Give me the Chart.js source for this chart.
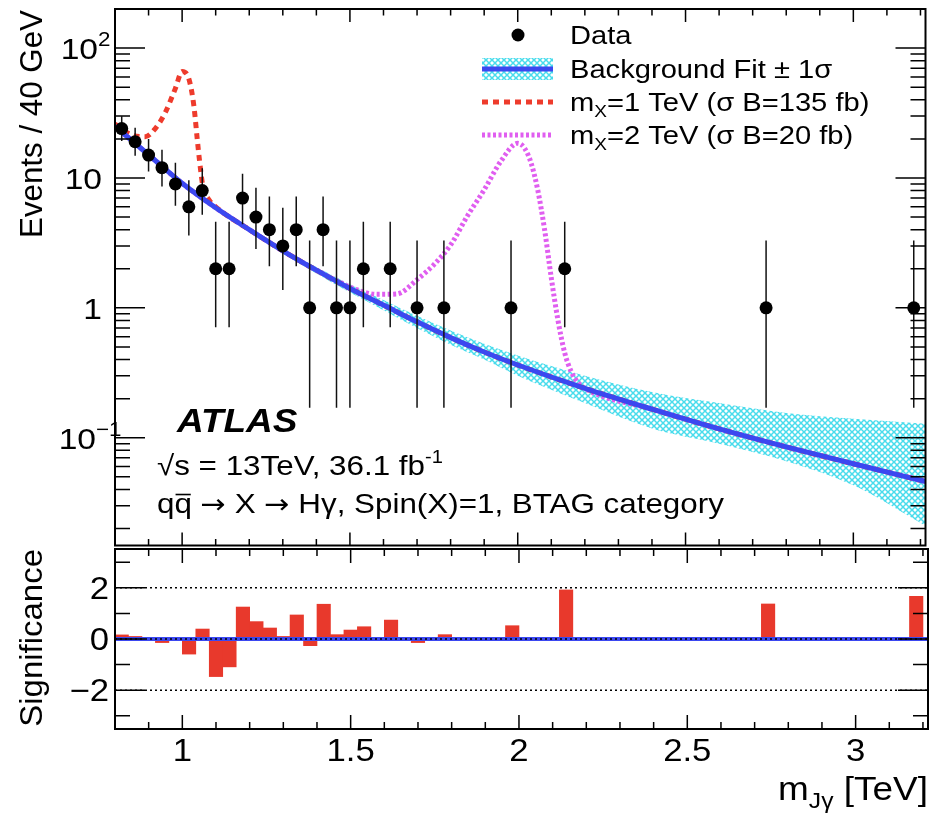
<!DOCTYPE html>
<html>
<head>
<meta charset="utf-8">
<title>m_Jγ spectrum, BTAG category</title>
<script src="https://cdn.jsdelivr.net/npm/chart.js@4.4.1/dist/chart.umd.min.js"></script>
<style>
  body { margin: 0; background: #fff; }
  #wrap { position: relative; width: 932px; height: 816px; overflow: hidden; }
  #wrap canvas { position: absolute; left: 0; }
  #main-chart { top: 0; }
  #sig-chart { top: 540px; }
</style>
</head>
<body>
<div id="wrap">
  <canvas id="main-chart" width="932" height="552"></canvas>
  <canvas id="sig-chart" width="932" height="276"></canvas>
</div>
<script>
// ---- data (TeV, events / 40 GeV) ----
const dataX  = [0.82, 0.86, 0.90, 0.94, 0.98, 1.02, 1.06, 1.10, 1.14, 1.18, 1.22, 1.26, 1.30, 1.34, 1.38, 1.42, 1.46, 1.50, 1.54, 1.62, 1.70, 1.78, 1.98, 2.14, 2.74, 3.18];
const dataY  = [24, 19, 15, 12, 9, 6, 8, 2, 2, 7, 5, 4, 3, 4, 1, 4, 1, 1, 2, 2, 1, 1, 1, 2, 1, 1];
const dataLo = [19.3, 14.8, 11.2, 8.6, 6.1, 3.6, 5.2, 0.71, 0.71, 4.4, 2.84, 2.09, 1.37, 2.09, 0.17, 2.09, 0.17, 0.17, 0.71, 0.71, 0.17, 0.17, 0.17, 0.71, 0.17, 0.17];
const dataHi = [29.9, 24.4, 20.0, 16.5, 13.1, 9.6, 11.9, 4.6, 4.6, 10.8, 8.4, 7.2, 5.9, 7.2, 3.3, 7.2, 3.3, 3.3, 4.6, 4.6, 3.3, 3.3, 3.3, 4.6, 3.3, 3.3];

const fitX   = [0.80, 0.90, 1.00, 1.10, 1.20, 1.30, 1.40, 1.50, 1.60, 1.70, 1.80, 1.90, 2.00, 2.20, 2.40, 2.60, 2.80, 3.00, 3.215];
const fitY   = [25, 15.1, 9.1, 5.9, 4.0, 2.75, 1.95, 1.41, 1.05, 0.78, 0.59, 0.457, 0.363, 0.24, 0.166, 0.117, 0.085, 0.063, 0.046];
const bandHi = [26, 15.6, 9.4, 6.1, 4.15, 2.87, 2.06, 1.52, 1.15, 0.87, 0.67, 0.53, 0.43, 0.30, 0.225, 0.185, 0.155, 0.14, 0.128];
const bandLo = [24, 14.6, 8.8, 5.7, 3.85, 2.62, 1.84, 1.31, 0.96, 0.70, 0.52, 0.40, 0.30, 0.185, 0.118, 0.09, 0.066, 0.043, 0.021];

const sig1X = [0.80, 0.85, 0.89, 0.92, 0.95, 0.98, 1.00, 1.02, 1.035, 1.045, 1.052, 1.062, 1.08, 1.10, 1.20, 1.30, 1.40, 1.50, 1.60, 1.70, 1.80, 1.90, 2.00, 2.20, 2.40, 2.60, 2.80, 3.00, 3.215];
const sig1Y = [26, 21.4, 20.8, 24, 32, 49, 66, 58, 36, 20, 13.5, 8.6, 6.8, 6.0, 4.0, 2.75, 1.95, 1.41, 1.05, 0.78, 0.59, 0.457, 0.363, 0.24, 0.166, 0.117, 0.085, 0.063, 0.046];

const sig2X = [0.80, 0.90, 1.00, 1.10, 1.20, 1.30, 1.40, 1.46, 1.52, 1.58, 1.64, 1.70, 1.75, 1.80, 1.85, 1.90, 1.95, 2.00, 2.02, 2.04, 2.06, 2.08, 2.10, 2.12, 2.14, 2.16, 2.18, 2.20, 2.40, 2.60, 2.80, 3.00, 3.215];
const sig2Y = [25, 15.1, 9.1, 5.9, 4.0, 2.75, 1.95, 1.62, 1.38, 1.27, 1.28, 1.65, 2.15, 3.05, 5.1, 8.1, 13.5, 18.5, 17, 13, 8, 4, 1.7, 0.8, 0.45, 0.32, 0.265, 0.24, 0.166, 0.117, 0.085, 0.063, 0.046];

// significance per 40 GeV bin (bin centres)
const binX   = [0.82, 0.86, 0.94, 0.98, 1.02, 1.06, 1.10, 1.14, 1.18, 1.22, 1.26, 1.30, 1.34, 1.38, 1.42, 1.46, 1.50, 1.54, 1.62, 1.70, 1.78, 1.98, 2.14, 2.74, 3.18];
const binSig = [0.16, 0.10, -0.14, -0.06, -0.59, 0.39, -1.47, -1.09, 1.25, 0.68, 0.43, 0.10, 0.94, -0.26, 1.36, 0.17, 0.35, 0.48, 0.74, -0.14, 0.17, 0.52, 1.92, 1.37, 1.67];

const xTickLabels = ["1", "1.5", "2", "2.5", "3"];
const sigTickLabels = ["2", "0", "\u22122"];

const X_MIN = 0.8, X_MAX = 3.215;
const FONT = '"Liberation Sans", Arial, Helvetica, sans-serif';
const SX = 1.12;   // the reference text is a bit wider than plain Arial

const BLUE = "#3b48f0", RED = "#ee3b2c", MAGENTA = "#e05ef0";

function pts(xs, ys) { return xs.map((x, i) => ({ x: x, y: ys[i] })); }

function hatchPattern(ctx) {
  const c = document.createElement("canvas");
  c.width = 6; c.height = 6;
  const g = c.getContext("2d");
  g.strokeStyle = "#48dcec";
  g.lineWidth = 1.5;
  g.beginPath();
  g.moveTo(0, 0); g.lineTo(6, 6);
  g.moveTo(6, 0); g.lineTo(0, 6);
  g.stroke();
  return ctx.createPattern(c, "repeat");
}

// draw a run of text pieces (for sub/superscripts), horizontally stretched by sx
function drawText(ctx, parts, x, y, align, sx) {
  sx = sx || SX;
  let total = 0;
  parts.forEach(p => {
    p.font = (p.style ? p.style + " " : "") + p.size + "px " + (p.family || FONT);
    ctx.font = p.font;
    p.w = ctx.measureText(p.t).width * sx;
    total += p.w;
  });
  let cx = align === "right" ? x - total : (align === "center" ? x - total / 2 : x);
  parts.forEach(p => {
    ctx.save();
    ctx.font = p.font;
    ctx.textAlign = "left";
    ctx.textBaseline = "alphabetic";
    ctx.fillStyle = "#000";
    ctx.translate(cx, y + (p.dy || 0));
    ctx.scale(sx, 1);
    ctx.fillText(p.t, 0, 0);
    if (p.bar) {
      ctx.strokeStyle = "#000";
      ctx.lineWidth = 1.6;
      ctx.beginPath();
      ctx.moveTo(1, -p.size * 0.66);
      ctx.lineTo(p.w / sx - 1, -p.size * 0.66);
      ctx.stroke();
    }
    ctx.restore();
    cx += p.w;
  });
}

function drawFrame(ctx, a) {
  ctx.save();
  ctx.strokeStyle = "#000";
  ctx.lineWidth = 2;
  ctx.strokeRect(a.left, a.top, a.right - a.left, a.bottom - a.top);
  ctx.restore();
}

function drawXTicks(ctx, chart, majorLen, minorLen) {
  const a = chart.chartArea, xs = chart.scales.x;
  ctx.save();
  ctx.strokeStyle = "#000";
  ctx.lineWidth = 1.5;
  ctx.beginPath();
  for (let k = 9; k <= 32; k++) {
    const px = xs.getPixelForValue(k / 10);
    const len = k % 5 === 0 ? majorLen : minorLen;
    ctx.moveTo(px, a.top); ctx.lineTo(px, a.top + len);
    ctx.moveTo(px, a.bottom); ctx.lineTo(px, a.bottom - len);
  }
  ctx.stroke();
  ctx.restore();
}

function drawYTicks(ctx, chart, values, isMajor) {
  const a = chart.chartArea, ys = chart.scales.y;
  ctx.save();
  ctx.strokeStyle = "#000";
  ctx.lineWidth = 1.5;
  ctx.beginPath();
  values.forEach(v => {
    const py = ys.getPixelForValue(v);
    const len = isMajor(v) ? 30 : 15;
    ctx.moveTo(a.left, py); ctx.lineTo(a.left + len, py);
    ctx.moveTo(a.right, py); ctx.lineTo(a.right - len, py);
  });
  ctx.stroke();
  ctx.restore();
}

function legendLine(ctx, y, color, width, dash) {
  ctx.save();
  ctx.strokeStyle = color;
  ctx.lineWidth = width;
  ctx.setLineDash(dash || []);
  ctx.beginPath();
  ctx.moveTo(482, y); ctx.lineTo(553, y);
  ctx.stroke();
  ctx.restore();
}

const errorBars = {
  id: "errorBars",
  beforeDatasetDraw(chart, args) {
    const ds = chart.data.datasets[args.index];
    if (!ds.errLo) return;
    const ctx = chart.ctx, xs = chart.scales.x, ys = chart.scales.y, a = chart.chartArea;
    ctx.save();
    ctx.beginPath();
    ctx.rect(a.left, a.top, a.right - a.left, a.bottom - a.top);
    ctx.clip();
    ctx.strokeStyle = "#111";
    ctx.lineWidth = 1.5;
    ctx.beginPath();
    ds.data.forEach((p, i) => {
      const px = xs.getPixelForValue(p.x);
      ctx.moveTo(px, ys.getPixelForValue(ds.errLo[i]));
      ctx.lineTo(px, ys.getPixelForValue(ds.errHi[i]));
    });
    ctx.stroke();
    ctx.restore();
  }
};

const mainDecor = {
  id: "mainDecor",
  afterDraw(chart) {
    const ctx = chart.ctx, a = chart.chartArea, ys = chart.scales.y;
    drawFrame(ctx, a);
    drawXTicks(ctx, chart, 13, 6.5);

    const logTicks = [];
    for (let d = -2; d <= 2; d++) {
      for (let m = 1; m <= 9; m++) {
        const v = m * Math.pow(10, d);
        if (v >= ys.min && v <= ys.max) logTicks.push(v);
      }
    }
    drawYTicks(ctx, chart, logTicks, v => Math.abs(Math.log10(v) - Math.round(Math.log10(v))) < 1e-6);

    // y tick labels: plain ones right-aligned, powers keep "10" aligned and let the exponent run on
    const ty = v => ys.getPixelForValue(v) + 11;
    drawText(ctx, [{ t: "10", size: 30 }], 98, ty(100), "right");
    drawText(ctx, [{ t: "2", size: 20 }], 98, ty(100) - 13, "left");
    drawText(ctx, [{ t: "10", size: 30 }], 102, ty(10), "right");
    drawText(ctx, [{ t: "1", size: 30 }], 102, ty(1), "right");
    drawText(ctx, [{ t: "10", size: 30 }], 96, ty(0.1), "right");
    drawText(ctx, [{ t: "\u22121", size: 20 }], 96, ty(0.1) - 13, "left");

    // y title
    ctx.save();
    ctx.translate(42, 10);
    ctx.rotate(-Math.PI / 2);
    drawText(ctx, [{ t: "Events / 40 GeV", size: 31 }], 0, 0, "right", 1.01);
    ctx.restore();

    // legend
    ctx.save();
    ctx.fillStyle = "#000";
    ctx.beginPath();
    ctx.arc(518, 35, 6.5, 0, Math.PI * 2);
    ctx.fill();
    ctx.fillStyle = chart.$hatch;
    ctx.fillRect(482, 58, 71, 22);
    ctx.restore();
    legendLine(ctx, 69, BLUE, 5);
    legendLine(ctx, 102, RED, 5, [6, 5]);
    legendLine(ctx, 135, MAGENTA, 5, [3, 2.5]);
    drawText(ctx, [{ t: "Data", size: 26 }], 570, 44, "left");
    drawText(ctx, [{ t: "Background Fit \u00b1 1\u03c3", size: 26 }], 570, 78, "left");
    drawText(ctx, [{ t: "m", size: 26 }, { t: "X", size: 17, dy: 6 }, { t: "=1 TeV (\u03c3 B=135 fb)", size: 26 }], 570, 111, "left");
    drawText(ctx, [{ t: "m", size: 26 }, { t: "X", size: 17, dy: 6 }, { t: "=2 TeV (\u03c3 B=20 fb)", size: 26 }], 570, 144, "left");

    // labels
    const ARROW = '"DejaVu Sans", sans-serif';
    drawText(ctx, [{ t: "ATLAS", size: 33, style: "italic bold" }], 177, 432, "left");
    drawText(ctx, [{ t: "\u221as = 13TeV, 36.1 fb", size: 28 }, { t: "-1", size: 18, dy: -12 }], 157, 475, "left");
    drawText(ctx, [{ t: "q", size: 28 }, { t: "q", size: 28, bar: true },
                   { t: " ", size: 28 }, { t: "\u2192", size: 27, family: ARROW },
                   { t: " X ", size: 28 }, { t: "\u2192", size: 27, family: ARROW },
                   { t: " H\u03b3, Spin(X)=1, BTAG category", size: 28 }], 157, 513, "left");
  }
};

const sigDecor = {
  id: "sigDecor",
  beforeDatasetsDraw(chart) {
    const ctx = chart.ctx, a = chart.chartArea, ys = chart.scales.y;
    ctx.save();
    ctx.strokeStyle = "#000";
    ctx.lineWidth = 1.5;
    ctx.setLineDash([2, 3]);
    ctx.beginPath();
    [2, -2].forEach(v => {
      const py = ys.getPixelForValue(v);
      ctx.moveTo(a.left, py); ctx.lineTo(a.right, py);
    });
    ctx.stroke();
    ctx.restore();
  },
  afterDatasetsDraw(chart) {
    const ctx = chart.ctx, a = chart.chartArea, ys = chart.scales.y;
    const py = ys.getPixelForValue(0);
    ctx.save();
    ctx.strokeStyle = BLUE;
    ctx.lineWidth = 4;
    ctx.beginPath();
    ctx.moveTo(a.left, py); ctx.lineTo(a.right, py);
    ctx.stroke();
    ctx.strokeStyle = "#000";
    ctx.lineWidth = 1.5;
    ctx.setLineDash([2, 3]);
    ctx.beginPath();
    ctx.moveTo(a.left, py); ctx.lineTo(a.right, py);
    ctx.stroke();
    ctx.restore();
  },
  afterDraw(chart) {
    const ctx = chart.ctx, a = chart.chartArea, xs = chart.scales.x, ys = chart.scales.y;
    drawFrame(ctx, a);
    drawXTicks(ctx, chart, 14, 7);
    drawYTicks(ctx, chart, [-3, -2, -1, 0, 1, 2, 3], v => v % 2 === 0);

    [2, 0, -2].forEach((v, i) => {
      drawText(ctx, [{ t: sigTickLabels[i], size: 31 }], 109, ys.getPixelForValue(v) + 11, "right");
    });
    [1, 1.5, 2, 2.5, 3].forEach((v, i) => {
      drawText(ctx, [{ t: xTickLabels[i], size: 31 }], xs.getPixelForValue(v), a.bottom + 32, "center");
    });

    ctx.save();
    ctx.translate(42, a.top);
    ctx.rotate(-Math.PI / 2);
    drawText(ctx, [{ t: "Significance", size: 32 }], 0, 0, "right", 1.03);
    ctx.restore();

    drawText(ctx, [{ t: "m", size: 33 }, { t: "J\u03b3", size: 22, dy: 8 }, { t: " [TeV]", size: 33 }],
             a.right, a.bottom + 71, "right");
  }
};

document.addEventListener("DOMContentLoaded", () => {
  const mainCanvas = document.getElementById("main-chart");
  const mainCtx = mainCanvas.getContext("2d");
  const hatch = hatchPattern(mainCtx);

  const mainChart = new Chart(mainCtx, {
    type: "line",
    data: {
      datasets: [
        {
          label: "Data",
          type: "scatter",
          data: pts(dataX, dataY),
          errLo: dataLo,
          errHi: dataHi,
          showLine: false,
          pointRadius: 6.5,
          pointBackgroundColor: "#000",
          pointBorderWidth: 0,
          order: 0
        },
        {
          label: "Background Fit",
          data: pts(fitX, fitY),
          borderColor: BLUE,
          borderWidth: 5,
          pointRadius: 0,
          cubicInterpolationMode: "monotone",
          fill: false,
          order: 1
        },
        {
          label: "mX=1 TeV",
          data: pts(sig1X, sig1Y),
          borderColor: RED,
          borderWidth: 5,
          borderDash: [6, 5],
          pointRadius: 0,
          cubicInterpolationMode: "monotone",
          fill: false,
          order: 2
        },
        {
          label: "mX=2 TeV",
          data: pts(sig2X, sig2Y),
          borderColor: MAGENTA,
          borderWidth: 5,
          borderDash: [3, 2.5],
          pointRadius: 0,
          cubicInterpolationMode: "monotone",
          fill: false,
          order: 3
        },
        {
          label: "band up",
          data: pts(fitX, bandHi),
          borderWidth: 0,
          pointRadius: 0,
          backgroundColor: hatch,
          cubicInterpolationMode: "monotone",
          fill: "+1",
          order: 5
        },
        {
          label: "band down",
          data: pts(fitX, bandLo),
          borderWidth: 0,
          pointRadius: 0,
          cubicInterpolationMode: "monotone",
          fill: false,
          order: 6
        }
      ]
    },
    options: {
      responsive: false,
      animation: false,
      layout: { padding: { left: 115, right: 4, top: 9, bottom: 6 } },
      plugins: { legend: { display: false }, tooltip: { enabled: false } },
      scales: {
        x: { type: "linear", min: X_MIN, max: X_MAX, display: false },
        y: { type: "logarithmic", min: 0.0148, max: 200, display: false }
      }
    },
    plugins: [errorBars, mainDecor]
  });
  mainChart.$hatch = hatch;
  mainChart.draw();

  const sigCtx = document.getElementById("sig-chart").getContext("2d");
  new Chart(sigCtx, {
    type: "bar",
    data: {
      datasets: [{
        label: "Significance",
        data: pts(binX, binSig),
        backgroundColor: "#e8392c",
        borderWidth: 0,
        barPercentage: 1,
        categoryPercentage: 1
      }]
    },
    options: {
      responsive: false,
      animation: false,
      layout: { padding: { left: 115, right: 4, top: 9, bottom: 87 } },
      plugins: { legend: { display: false }, tooltip: { enabled: false } },
      scales: {
        x: { type: "linear", min: X_MIN, max: X_MAX, offset: false, display: false },
        y: { type: "linear", min: -3.52, max: 3.52, display: false }
      }
    },
    plugins: [sigDecor]
  });
});
</script>
</body>
</html>
